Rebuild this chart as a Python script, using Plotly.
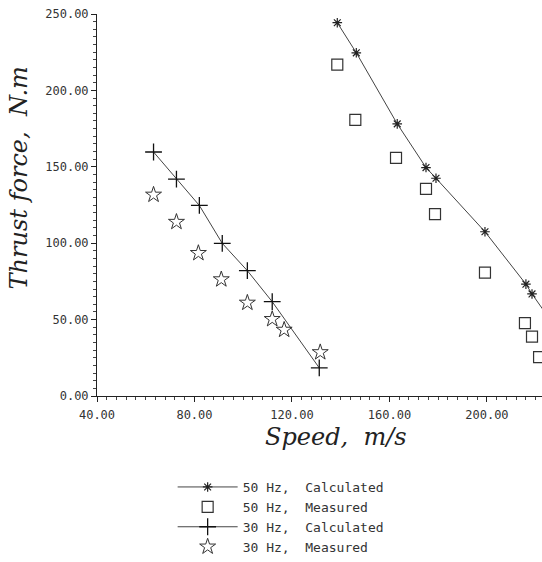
import plotly.graph_objects as go

# ---- data ----
speed_50_calc = [138.6, 146.4, 163.2, 175.0, 179.1, 199.2, 216.0, 218.5, 225.0]
force_50_calc = [244.3, 224.6, 178.1, 149.5, 142.5, 107.5, 73.2, 66.8, 52.0]

speed_50_meas = [138.6, 146.0, 162.7, 175.0, 178.7, 199.2, 215.6, 218.5, 221.4]
force_50_meas = [216.9, 180.7, 155.9, 135.5, 119.0, 80.8, 47.7, 38.8, 25.4]

speed_30_calc = [63.2, 72.6, 82.0, 91.4, 101.7, 111.9, 131.2]
force_30_calc = [159.7, 141.9, 124.7, 99.9, 82.0, 61.7, 18.4]

speed_30_meas = [63.2, 72.6, 81.6, 91.0, 101.7, 111.9, 116.8, 131.6]
force_30_meas = [131.7, 113.9, 93.5, 76.3, 61.0, 50.3, 43.3, 28.6]

x_ticks = [40, 80, 120, 160, 200]
x_tick_labels = ["40.00", "80.00", "120.00", "160.00", "200.00"]
y_ticks = [0, 50, 100, 150, 200, 250]
y_tick_labels = ["0.00", "50.00", "100.00", "150.00", "200.00", "250.00"]

names = ["50\u00a0Hz,\u00a0\u00a0Calculated", "50\u00a0Hz,\u00a0\u00a0Measured",
         "30\u00a0Hz,\u00a0\u00a0Calculated", "30\u00a0Hz,\u00a0\u00a0Measured"]

fig = go.Figure()
fig.add_trace(go.Scatter(x=speed_50_calc, y=force_50_calc, mode="lines+markers", name=names[0],
                         line=dict(color="#444444", width=1),
                         marker=dict(symbol="asterisk-open", size=8, color="#222222", line=dict(width=1.2, color="#222222"))))
fig.add_trace(go.Scatter(x=speed_50_meas, y=force_50_meas, mode="markers", name=names[1],
                         marker=dict(symbol="square-open", size=11, color="#333333", line=dict(width=1.2, color="#333333"))))
fig.add_trace(go.Scatter(x=speed_30_calc, y=force_30_calc, mode="lines+markers", name=names[2],
                         line=dict(color="#444444", width=1),
                         marker=dict(symbol="cross-thin-open", size=12, color="#111111", line=dict(width=1.3, color="#111111"))))
fig.add_trace(go.Scatter(x=speed_30_meas, y=force_30_meas, mode="markers", name=names[3],
                         marker=dict(symbol="star-open", size=12, color="#333333", line=dict(width=1, color="#333333"))))

tickfont = dict(family="DejaVu Sans Mono", size=12, color="#333333")
title_font = dict(family="DejaVu Serif", size=24, color="#222222", style="italic")

fig.update_layout(
    width=542, height=562,
    margin=dict(l=97, r=0, t=14, b=155),
    paper_bgcolor="white", plot_bgcolor="white",
    showlegend=True,
    legend=dict(x=0.17, y=-0.2, xanchor="left", yanchor="top",
                font=dict(family="DejaVu Sans Mono", size=13, color="#333333"),
                itemwidth=60, tracegroupgap=0, bgcolor="rgba(0,0,0,0)"),
    xaxis=dict(range=[40, 222.6], showgrid=False, zeroline=False,
               showline=True, linecolor="#222222", linewidth=1,
               tickmode="array", tickvals=x_ticks, ticktext=x_tick_labels,
               ticks="outside", ticklen=5, tickcolor="#222222", tickfont=tickfont,
               ticklabelstandoff=3,
               minor=dict(dtick=4, tick0=40, ticks="outside", ticklen=3, tickcolor="#444444")),
    yaxis=dict(range=[0, 250], showgrid=False, zeroline=False,
               showline=True, linecolor="#222222", linewidth=1,
               tickmode="array", tickvals=y_ticks, ticktext=y_tick_labels,
               ticks="outside", ticklen=5, tickcolor="#222222", tickfont=tickfont,
               minor=dict(dtick=5, tick0=0, ticks="outside", ticklen=3, tickcolor="#444444")),
    annotations=[
        dict(text="Thrust\u00a0force,\u00a0\u00a0N.m", xref="paper", yref="paper",
             x=-0.175, y=0.57, xanchor="center", yanchor="middle",
             textangle=-90, showarrow=False, font=title_font),
        dict(text="Speed,\u00a0\u00a0m/s", xref="paper", yref="paper",
             x=0.537, y=-0.107, xanchor="center", yanchor="middle",
             showarrow=False, font=title_font),
    ],
)

fig.write_html("out.html", config={"displayModeBar": False},
               post_script="document.body.style.margin='0';document.body.style.padding='0';")
